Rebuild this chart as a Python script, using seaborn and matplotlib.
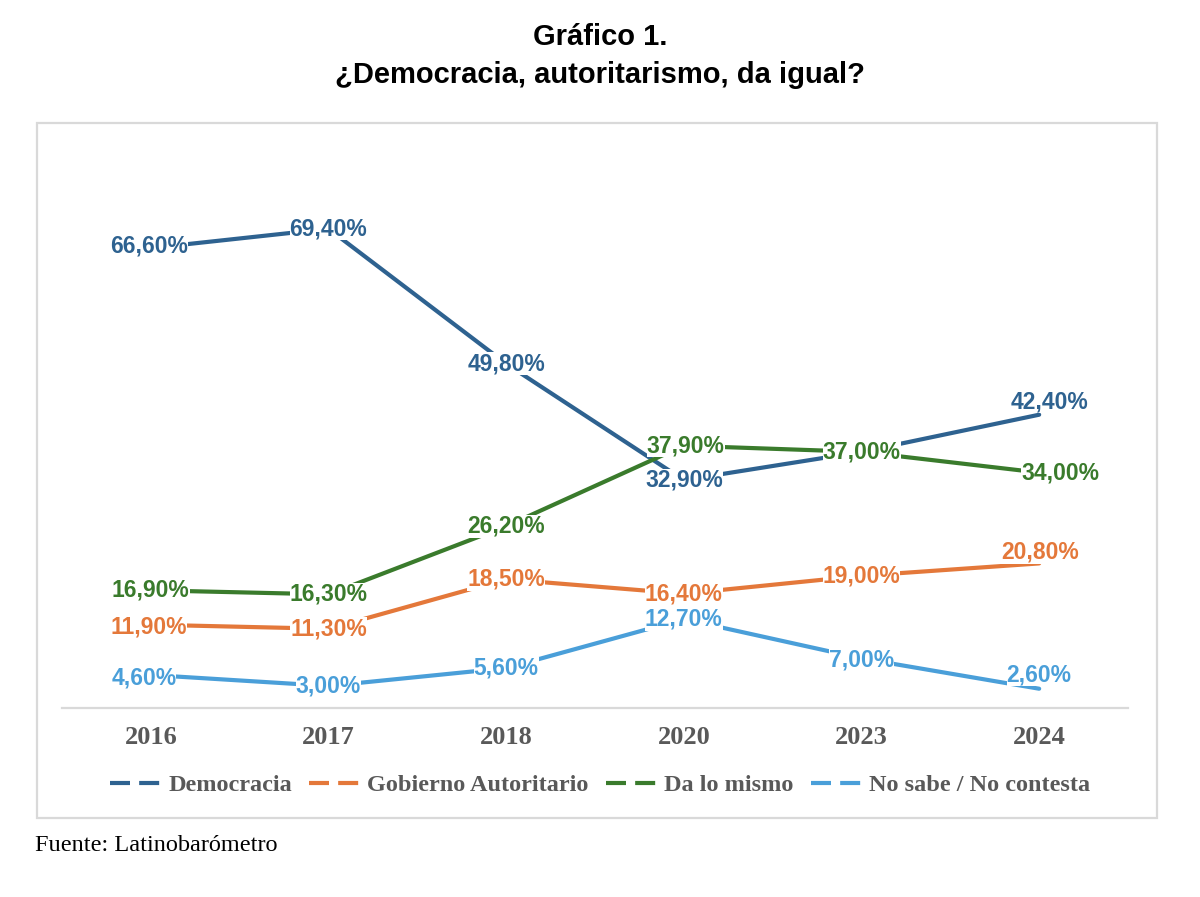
import pandas as pd
import matplotlib.pyplot as plt
import seaborn as sns
from matplotlib.lines import Line2D
from matplotlib.patches import Rectangle

# data (percent)
years = ['2016', '2017', '2018', '2020', '2023', '2024']
series_names = ['Democracia', 'Gobierno Autoritario', 'Da lo mismo',
                'No sabe / No contesta']
democracia = [66.6, 69.4, 49.8, 32.9, 37.0, 42.4]
autoritario = [11.9, 11.3, 18.5, 16.4, 19.0, 20.8]
da_lo_mismo = [16.9, 16.3, 26.2, 37.9, 37.0, 34.0]
no_sabe = [4.6, 3.0, 5.6, 12.7, 7.0, 2.6]

colors = ['#2E6290', '#E4783A', '#3A7B2C', '#4A9FD9']

# label nudges in pixels (dx right, dy down), 0 elsewhere
nudges = {
    (0, 0): (-2, -2), (0, 5): (10, -13),
    (1, 0): (-2, 2), (1, 5): (1, -11),
    (2, 2): (0, 0), (2, 3): (2, 0), (2, 5): (21, 0),
    (3, 0): (-7, 3), (3, 4): (0, 2), (3, 5): (0, -14),
}

values = [democracia, autoritario, da_lo_mismo, no_sabe]
rows = []
for name, vals in zip(series_names, values):
    for y, v in zip(years, vals):
        rows.append({'Año': y, 'Serie': name, 'Valor': v})
df = pd.DataFrame(rows)

sns.set_theme(style='white')
plt.rcParams['font.family'] = ['Liberation Sans', 'DejaVu Sans']

fig = plt.figure(figsize=(12, 8.97), dpi=100)
ax = fig.add_axes([62 / 1200, 1 - 708 / 897, 1066 / 1200, 568 / 897])

sns.lineplot(data=df, x='Año', y='Valor', hue='Serie', palette=colors,
             hue_order=series_names, linewidth=3, sort=False, legend=False,
             ax=ax)

# draw labels, Democracia first so Da lo mismo sits on top at 2023
for si, (vals, col) in enumerate(zip(values, colors)):
    for i, v in enumerate(vals):
        dx, dy = nudges.get((si, i), (0, 0))
        ax.annotate(f'{v:.2f}%'.replace('.', ','), (i, v),
                    xytext=(dx * 0.72, -dy * 0.72), textcoords='offset points',
                    ha='center', va='center', fontsize=16.5,
                    fontweight='bold', color=col, zorder=5,
                    bbox=dict(boxstyle='square,pad=0', fc='white', ec='none'))

ax.set_xlim(-0.5, 5.5)
ax.set_ylim(-0.2, 82.3)
ax.set_yticks([])
ax.set_xlabel('')
ax.set_ylabel('')
for s in ['top', 'left', 'right']:
    ax.spines[s].set_visible(False)
ax.spines['bottom'].set_color('#D9D9D9')
ax.spines['bottom'].set_linewidth(1.6)
ax.tick_params(axis='x', length=0, pad=13)
for lbl in ax.get_xticklabels():
    lbl.set_fontfamily('Liberation Serif')
    lbl.set_fontweight('bold')
    lbl.set_fontsize(19)
    lbl.set_color('#595959')

# outer chart frame
fig.patches.append(Rectangle((37 / 1200, 1 - 818 / 897), 1120 / 1200,
                             695 / 897, transform=fig.transFigure,
                             fill=False, ec='#D9D9D9', lw=1.6))

fig.text(0.5, 1 - 37 / 897, 'Gráfico 1.', ha='center', va='center',
         fontsize=21, fontweight='bold', color='black')
fig.text(0.5, 1 - 75 / 897, '¿Democracia, autoritarismo, da igual?',
         ha='center', va='center', fontsize=21, fontweight='bold',
         color='black')

handles = [Line2D([0], [0], color=c, lw=3, linestyle=(0, (4.8, 2.2)))
           for c in colors]
leg = fig.legend(handles, series_names, loc='center', ncol=4,
                 bbox_to_anchor=(0.5, 1 - 785 / 897), frameon=False,
                 handlelength=2.3, handletextpad=0.1, columnspacing=0.7,
                 prop={'family': 'Liberation Serif', 'weight': 'bold',
                       'size': 17.5})
for t in leg.get_texts():
    t.set_color('#595959')

fig.text(35 / 1200, 1 - 845 / 897, 'Fuente: Latinobarómetro', ha='left',
         va='center', fontsize=17.5, family='Liberation Serif',
         color='black')

fig.savefig('out.png', dpi=100, facecolor='white')
